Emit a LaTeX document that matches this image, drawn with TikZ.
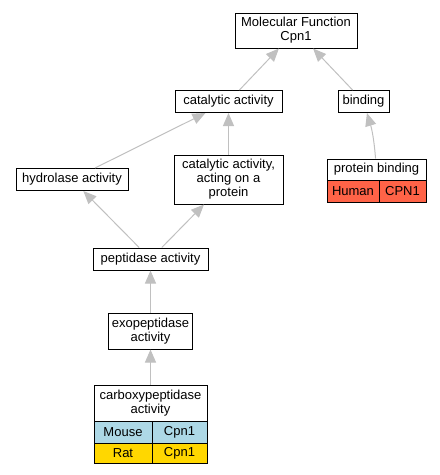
\documentclass[tikz,border=0pt]{standalone}
\usepackage{fontspec}
\setmainfont{Liberation Sans}
\usetikzlibrary{arrows.meta}
\definecolor{edgegray}{HTML}{C0C0C0}
\definecolor{mouseblue}{HTML}{ADD8E6}
\definecolor{ratgold}{HTML}{FFD700}
\definecolor{humanred}{HTML}{FF6347}
\begin{document}
\begin{tikzpicture}[x=1pt,y=-1pt,
  box/.style={draw=black,line width=1pt,fill=white,inner sep=0pt,align=center,
    font=\fontsize{13}{14}\selectfont},
  cell/.style={box},
  edge/.style={draw=edgegray,line width=1pt,-{Triangle[length=13pt,width=11pt]}}]
\useasboundingbox (0,0) rectangle (440,475);
\node[box,minimum width=122pt,minimum height=35pt] (mf) at (296,30.5) {Molecular Function\\Cpn1};
\node[box,minimum width=107pt,minimum height=22pt] (cat) at (228.5,101.5) {catalytic activity};
\node[box,minimum width=51pt,minimum height=22pt] (bind) at (363.5,101.5) {binding};
\node[box,minimum width=112pt,minimum height=22pt] (hyd) at (72,179.5) {hydrolase activity};
\node[box,minimum width=109pt,minimum height=49pt] (catp) at (228.5,179.5) {catalytic activity,\\acting on a\\protein};
\node[box,minimum width=99pt,minimum height=21pt] (pb) at (376.5,169.5) {protein binding};
\node[cell,fill=humanred,minimum width=52pt,minimum height=22pt] (pbh) at (353,191) {Human};
\node[cell,fill=humanred,minimum width=47pt,minimum height=22pt] (pbc) at (402.5,191) {CPN1};
\node[box,minimum width=115pt,minimum height=22pt] (pep) at (150.5,259) {peptidase activity};
\node[box,minimum width=84pt,minimum height=36pt] (exo) at (150.5,331) {exopeptidase\\activity};
\node[box,minimum width=113pt,minimum height=36pt] (carb) at (150.5,403) {carboxypeptidase\\activity};
\node[cell,fill=mouseblue,minimum width=58pt,minimum height=22pt] (cm) at (123,432) {Mouse};
\node[cell,fill=mouseblue,minimum width=55pt,minimum height=22pt] (cmc) at (179.5,432) {Cpn1};
\node[cell,fill=ratgold,minimum width=58pt,minimum height=20pt] (cr) at (123,453) {Rat};
\node[cell,fill=ratgold,minimum width=55pt,minimum height=20pt] (crc) at (179.5,453) {Cpn1};
\draw[edge] (cat) -- (mf);
\draw[edge] (bind) -- (mf);
\draw[edge] (hyd) -- (cat);
\draw[edge] (catp) -- (cat);
\draw[edge] (pb) to[bend right=6] (bind);
\draw[edge] (pep) -- (hyd);
\draw[edge] (pep) -- (catp);
\draw[edge] (carb) -- (exo);
\draw[edge] (exo) -- (pep);
\end{tikzpicture}
\end{document}
